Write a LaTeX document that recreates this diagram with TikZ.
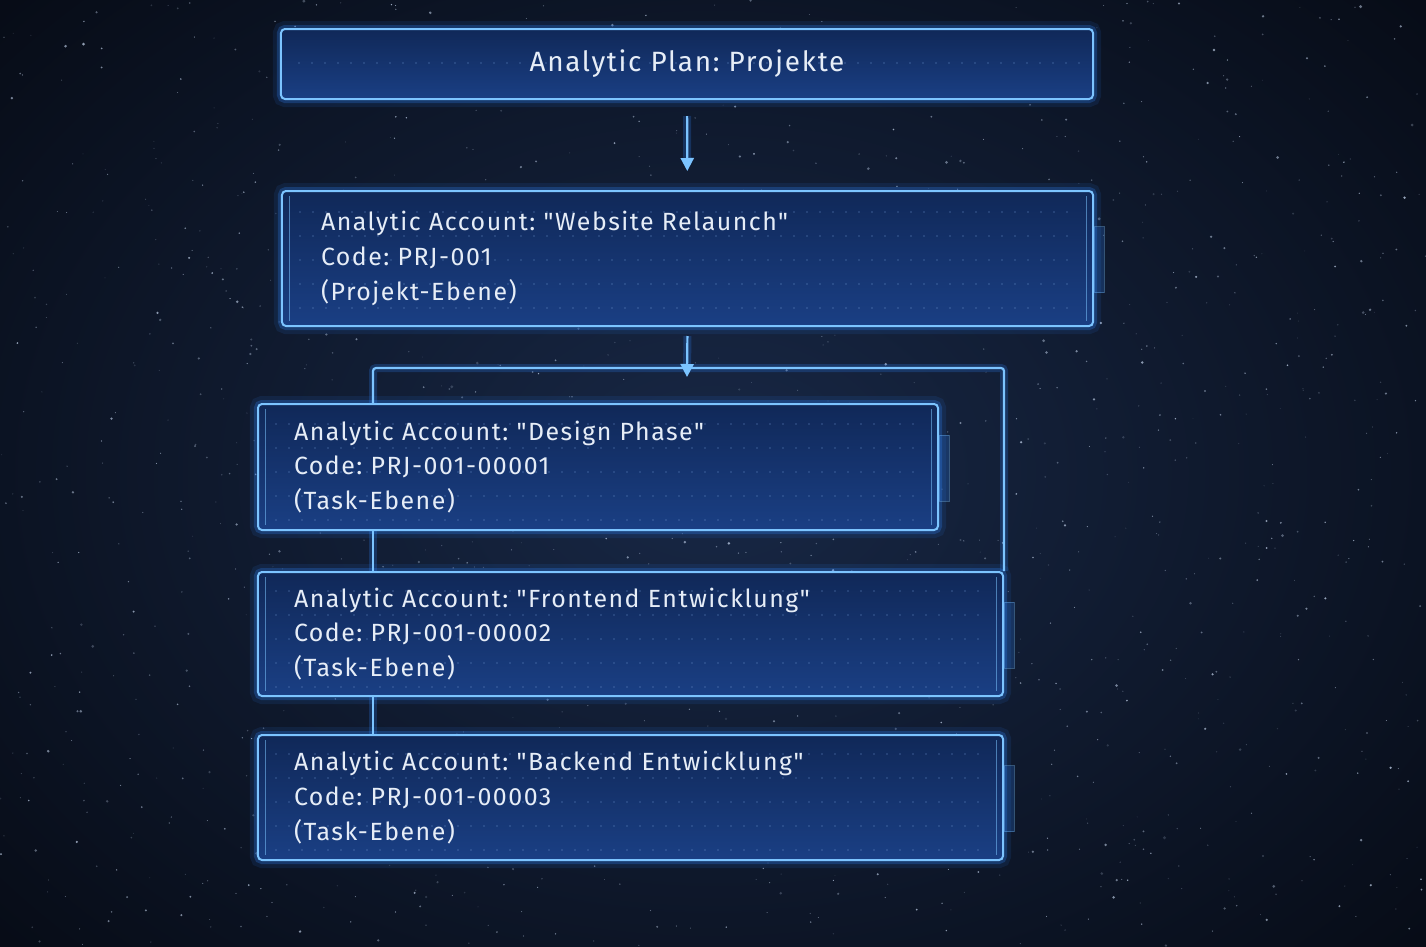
\documentclass[tikz,border=0pt]{standalone}
\usepackage{fontspec}
\setmainfont{Fira Sans}[LetterSpace=6, Ligatures=TeXOff]
\usetikzlibrary{arrows.meta,calc}
\definecolor{bgout}{HTML}{070C17}
\definecolor{bgin}{HTML}{182846}
\definecolor{boxtop}{HTML}{102858}
\definecolor{boxbot}{HTML}{1A3F84}
\definecolor{edge}{HTML}{7CC4FF}
\definecolor{glowc}{HTML}{2F86FF}
\definecolor{txt}{HTML}{E6EDF7}
\definecolor{starc}{HTML}{C8D8F0}
\definecolor{dotc}{HTML}{6E96D0}
\tikzset{
  glowbox/.style={rounded corners=4bp, top color=boxtop, bottom color=boxbot,
    draw=edge, line width=2bp,
    preaction={draw=glowc, line width=16bp, draw opacity=0.10},
    preaction={draw=glowc, line width=8bp, draw opacity=0.25},
    text=txt, align=left, font=\fontsize{25}{35}\selectfont\frenchspacing},
  conn/.style={draw=edge, line width=2.2bp,
    preaction={draw=glowc, line width=8bp, draw opacity=0.22}},
  tip/.style={-{Triangle[width=13bp,length=13bp]}},
  inner/.style={draw=edge, line width=0.9bp, draw opacity=0.55},
  tab/.style={fill=glowc, fill opacity=0.22, draw=edge, draw opacity=0.35, line width=0.6bp},
  dotrow/.style={draw=dotc, line width=1.6bp, line cap=round, dash pattern=on 0bp off 13bp, draw opacity=0.45},
  dots/.style={path picture={\foreach \k in {#1}{\draw[dotrow] ($(path picture bounding box.north west)+(18,\k)$) -- ($(path picture bounding box.north east)+(-14,\k)$);}}}
}
\begin{document}
\begin{tikzpicture}[x=1bp,y=-1bp]
\useasboundingbox (0,0) rectangle (1426,946);
% background
\fill[bgout] (-10,-10) rectangle (1436,956);
\shade[inner color=bgin, outer color=bgout] (713,473) ellipse [x radius=950bp, y radius=700bp];
\pgfmathsetseed{4217}
\foreach \i in {1,...,1400}{
  \pgfmathsetmacro\sx{rnd*1426}
  \pgfmathsetmacro\sy{rnd*946}
  \pgfmathsetmacro\so{0.15+0.6*rnd}
  \pgfmathsetmacro\sr{0.45+1.2*rnd*rnd}
  \fill[starc, opacity=\so] (\sx,\sy) circle[radius=\sr bp];
}
% boxes
\node[glowbox, dots={34}, minimum width=812bp, minimum height=70bp, inner sep=0pt, align=center,
      font=\fontsize{28}{30}\selectfont\frenchspacing] (plan) at (687,64) {Analytic Plan: Projekte};
\node[glowbox, dots={21,45,69,93,117}, minimum width=811bp, minimum height=135bp, inner xsep=39bp, text width=733bp] (prj) at (687.5,258.5)
  {Analytic Account: "Website Relaunch"\\Code: PRJ-001\\(Projekt-Ebene)};
\node[glowbox, dots={20,44,68,92,116}, minimum width=680bp, minimum height=126bp, inner xsep=36bp, text width=608bp] (design) at (598,467)
  {Analytic Account: "Design Phase"\\Code: PRJ-001-00001\\(Task-Ebene)};
\node[glowbox, dots={19,43,67,91,115}, minimum width=745bp, minimum height=124bp, inner xsep=36bp, text width=673bp] (front) at (630.5,634)
  {Analytic Account: "Frontend Entwicklung"\\Code: PRJ-001-00002\\(Task-Ebene)};
\node[glowbox, dots={19,43,67,91,115}, minimum width=745bp, minimum height=125bp, inner xsep=36bp, text width=673bp] (back) at (630.5,797.5)
  {Analytic Account: "Backend Entwicklung"\\Code: PRJ-001-00003\\(Task-Ebene)};
% inner side lines and tabs
\foreach \b in {prj,design,front,back}{
  \draw[inner] ($(\b.north west)+(8,6)$) -- ($(\b.south west)+(8,-6)$);
  \draw[inner] ($(\b.north east)+(-8,6)$) -- ($(\b.south east)+(-8,-6)$);
  \fill[tab] ($(\b.east)+(0,-32)$) rectangle ($(\b.east)+(10,34)$);
}
% connectors
\draw[conn, tip, shorten <=16bp, shorten >=19bp] (plan) -- (prj);
\coordinate (bl) at (373,368);
\coordinate (br) at (front.east |- bl);
\coordinate (hit) at (687,377);
\draw[conn, rounded corners=3bp] (bl |- design.north) -- (bl) -- (br) -- (front.north east);
\draw[conn, tip, shorten <=9bp] (prj.south) -- (hit);
\draw[conn] (bl |- design.south) -- (bl |- front.north);
\draw[conn] (bl |- front.south) -- (bl |- back.north);
\end{tikzpicture}
\end{document}
